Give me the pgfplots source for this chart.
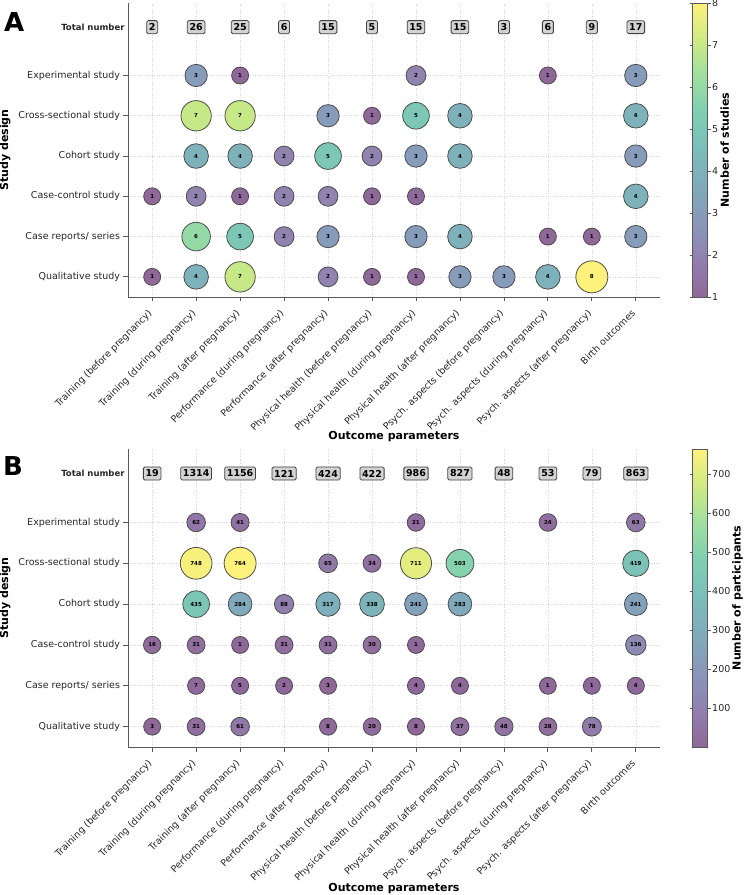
\documentclass[border=0pt]{standalone}
\usepackage{pgfplots}
\usepackage{pgfplotstable}
\pgfplotsset{compat=1.18}
\usepackage{fontspec}
\setmainfont{DejaVu Sans}
\definecolor{boxgray}{RGB}{211,211,211}

\pgfplotstableread{
x y v
1 5 3
2 5 1
6 5 2
9 5 1
11 5 3
1 4 7
2 4 7
4 4 3
5 4 1
6 4 5
7 4 4
11 4 4
1 3 4
2 3 4
3 3 2
4 3 5
5 3 2
6 3 3
7 3 4
11 3 3
0 2 1
1 2 2
2 2 1
3 2 2
4 2 2
5 2 1
6 2 1
11 2 4
1 1 6
2 1 5
3 1 2
4 1 3
6 1 3
7 1 4
9 1 1
10 1 1
11 1 3
0 0 1
1 0 4
2 0 7
4 0 2
5 0 1
6 0 1
7 0 3
8 0 3
9 0 4
10 0 8
}\dataA

\pgfplotstableread{
x y v
1 5 62
2 5 41
6 5 21
9 5 24
11 5 63
1 4 748
2 4 764
4 4 65
5 4 34
6 4 711
7 4 503
11 4 419
1 3 435
2 3 284
3 3 88
4 3 317
5 3 338
6 3 241
7 3 283
11 3 241
0 2 16
1 2 31
2 2 1
3 2 31
4 2 31
5 2 30
6 2 1
11 2 136
1 1 7
2 1 5
3 1 2
4 1 3
6 1 4
7 1 4
9 1 1
10 1 1
11 1 4
0 0 3
1 0 31
2 0 61
4 0 8
5 0 20
6 0 8
7 0 37
8 0 48
9 0 28
10 0 78
}\dataB

\pgfplotstableread{
x y t
0 6.2 2
1 6.2 26
2 6.2 25
3 6.2 6
4 6.2 15
5 6.2 5
6 6.2 15
7 6.2 15
8 6.2 3
9 6.2 6
10 6.2 9
11 6.2 17
}\totA

\pgfplotstableread{
x y t
0 6.2 19
1 6.2 1314
2 6.2 1156
3 6.2 121
4 6.2 424
5 6.2 422
6 6.2 986
7 6.2 827
8 6.2 48
9 6.2 53
10 6.2 79
11 6.2 863
}\totB

\pgfplotsset{
  colormap={paleviridis}{rgb255=(143,103,152) rgb255=(145,128,175) rgb255=(137,151,185) rgb255=(128,170,187) rgb255=(122,189,186) rgb255=(126,206,179) rgb255=(158,223,161) rgb255=(206,234,131) rgb255=(254,241,124)},
  bubblebase/.style={
    scale only axis, width=532pt,
    xmin=-0.55, xmax=11.55, ymin=-0.5, ymax=6.8,
    axis x line*=bottom, axis y line*=left,
    axis line style={black!65, line width=0.8pt},
    tick align=outside, major tick length=4.5pt,
    tick style={black!65, line width=0.8pt},
    xtick={0,...,11}, ytick={0,...,5},
    xticklabels={Training (before pregnancy),Training (during pregnancy),Training (after pregnancy),Performance (during pregnancy),Performance (after pregnancy),Physical health (before pregnancy),Physical health (during pregnancy),Physical health (after pregnancy),Psych. aspects (before pregnancy),Psych. aspects (during pregnancy),Psych. aspects (after pregnancy),Birth outcomes},
    yticklabels={Qualitative study,Case reports/ series,Case-control study,Cohort study,Cross-sectional study,Experimental study},
    extra y ticks={6.2},
    extra y tick labels={{\bfseries\fontsize{8.5}{10}\selectfont Total number}},
    extra y tick style={major tick length=0pt, grid=none},
    grid=major, grid style={dotted, black!16, line width=0.6pt},
    ticklabel style={font=\fontsize{9.5}{11}\selectfont, text=black!85},
    xticklabel style={xshift=-5pt, yshift=-5pt, rotate=45, anchor=north east, inner sep=1.5pt},
    xlabel={Outcome parameters}, ylabel={Study design},
    label style={font=\bfseries\fontsize{11}{13}\selectfont},
    xlabel style={at={(axis description cs:0.5,-0.475)}, anchor=center},
    ylabel style={at={(axis description cs:-0.231,0.5)}, anchor=center},
    colormap name=paleviridis,
    /pgf/number format/assume math mode=true,
    clip=false,
  },
  cbarbase/.style={
    at={(parent axis.north east)}, anchor=north west, xshift=24pt,
    width=15pt,
    tick align=outside, major tick length=3pt,
    tick style={black!65, line width=0.6pt},
    axis line style={black!65, line width=0.6pt},
    yticklabel style={font=\fontsize{9.5}{11}\selectfont, text=black!85, inner sep=1.5pt},
    ylabel style={font=\bfseries\fontsize{11}{13}\selectfont, anchor=center},
    /pgf/number format/assume math mode=true,
  },
  totstyle/.style={
    only marks, mark=*, mark size=0pt, mark options={draw=none, fill=none},
    point meta=explicit symbolic, nodes near coords, nodes near coords align=center,
    every node near coord/.append style={draw=black!75, fill=boxgray, rounded corners=1.5pt,
      font=\bfseries\fontsize{9.5}{10}\selectfont, anchor=center, inner xsep=2.2pt, inner ysep=3pt, line width=0.8pt, text=black},
  },
  numstyle/.style={
    only marks, mark=*, mark size=0pt, mark options={draw=none, fill=none},
    point meta=explicit symbolic, nodes near coords, nodes near coords align=center,
    every node near coord/.append style={font=\bfseries\fontsize{5.5}{6}\selectfont, anchor=center, text=black, inner sep=0pt},
  },
  bubstyle/.style={
    scatter, only marks, mark=*, line width=0.8pt,
    scatter/use mapped color={draw=black!70, fill=mapped color},
    scatter/@pre marker code/.append style={/tikz/mark size=\rad},
  },
}

\begin{document}
\begin{tikzpicture}
\path[use as bounding box] (0,0) rectangle (744pt,895pt);

% Panel A
\begin{axis}[bubblebase, height=294pt, at={(128pt,598pt)}, anchor=south west,
  point meta min=1, point meta max=8,
  colorbar, colorbar style={cbarbase, ytick={1,...,8}, ylabel={Number of studies},
    ylabel style={at={(axis description cs:2.15,0.5)}}}]
\addplot[point meta=\thisrow{v},
  visualization depends on={0.5*sqrt(289+735*(\thisrow{v}-1)/7) \as \rad}, bubstyle] table[x=x,y=y] {\dataA};
\addplot[numstyle] table[x=x,y=y,meta=v] {\dataA};
\addplot[totstyle] table[x=x,y=y,meta=t] {\totA};
\end{axis}
\node[font=\bfseries\fontsize{26}{26}\selectfont, anchor=north west, inner sep=0pt] at (4pt,883pt) {A};

% Panel B
\begin{axis}[bubblebase, height=298pt, at={(128pt,148pt)}, anchor=south west,
  point meta min=1, point meta max=764,
  colorbar, colorbar style={cbarbase, ytick={100,200,...,700}, ylabel={Number of participants},
    ylabel style={at={(axis description cs:3.0,0.5)}}}]
\addplot[point meta=\thisrow{v},
  visualization depends on={0.5*sqrt(289+735*(\thisrow{v}-1)/763) \as \rad}, bubstyle] table[x=x,y=y] {\dataB};
\addplot[numstyle] table[x=x,y=y,meta=v] {\dataB};
\addplot[totstyle] table[x=x,y=y,meta=t] {\totB};
\end{axis}
\node[font=\bfseries\fontsize{26}{26}\selectfont, anchor=north west, inner sep=0pt] at (3pt,439pt) {B};
\end{tikzpicture}
\end{document}
